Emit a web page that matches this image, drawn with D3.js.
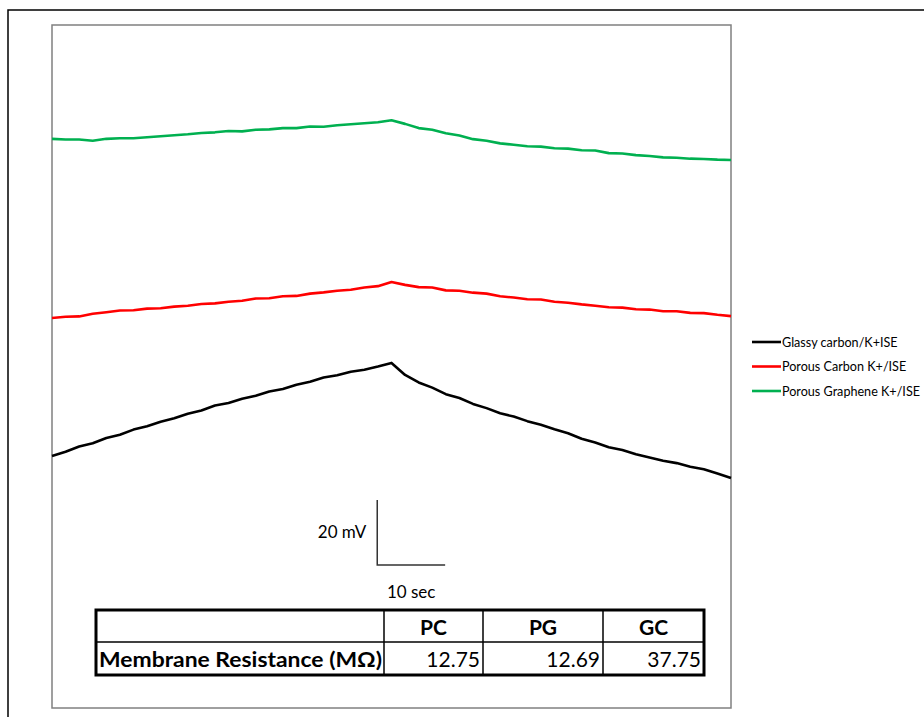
<!DOCTYPE html>
<html><head><meta charset="utf-8">
<script src="https://cdn.jsdelivr.net/npm/d3@7"></script>
<style>body{margin:0;background:#fff}svg{display:block}</style>
</head><body>
<script>
// time (s)
const time = [0,2,4,6,8,10,12,14,16,18,20,22,24,26,28,30,32,34,36,38,40,42,44,46,48,50,
  52,54,56,58,60,62,64,66,68,70,72,74,76,78,80,82,84,86,88,90,92,94,96,98,100];
// potentials (mV, arbitrary offset)
const glassyCarbon = [77.5,78.8,80.4,81.4,83.0,84.0,85.6,86.6,88.0,89.1,90.5,91.5,93.0,93.8,95.1,96.0,97.3,98.1,99.4,100.3,101.6,102.3,103.4,104.0,105.0,106.1,
  102.4,100.1,98.5,96.5,95.3,93.5,92.2,90.6,89.6,88.2,87.1,85.7,84.5,82.8,81.6,80.2,79.3,78.0,77.0,76.0,75.3,74.2,73.4,72.1,70.7];
const porousCarbon = [119.9,120.3,120.4,121.2,121.7,122.2,122.3,122.8,122.9,123.4,123.7,124.2,124.4,124.9,125.2,125.9,126.0,126.6,126.7,127.4,127.8,128.3,128.6,129.3,129.7,131.0,
  130.1,129.4,129.3,128.4,128.3,127.7,127.4,126.6,126.2,125.7,125.6,124.9,124.6,124.1,123.7,123.2,123.1,122.6,122.5,122.0,122.0,121.5,121.4,120.9,120.5];
const porousGraphene = [175.0,174.8,174.8,174.4,175.0,175.2,175.2,175.5,175.8,176.1,176.4,176.8,177.0,177.4,177.3,177.8,177.9,178.3,178.3,178.8,178.7,179.2,179.5,179.8,180.1,180.7,
  179.6,178.3,177.8,176.7,176.0,174.9,174.4,173.6,173.2,172.7,172.6,172.1,172.0,171.5,171.4,170.6,170.5,170.0,169.7,169.3,169.2,168.9,168.8,168.6,168.5];

const seriesNames = ["Glassy carbon/K+ISE","Porous Carbon K+/ISE","Porous Graphene K+/ISE"];
const seriesColors = ["#000000","#ff0000","#00b050"];
const seriesData = [glassyCarbon, porousCarbon, porousGraphene];

const tableHeaders = ["","PC","PG","GC"];
const tableRowLabel = "Membrane Resistance (MΩ)";
const tableValues = ["12.75","12.69","37.75"];

const scaleBarMV = 20, scaleBarSec = 10;

const W = 924, H = 717;
const svg = d3.select("body").append("svg").attr("width", W).attr("height", H);
const font = "Lato, 'Open Sans', sans-serif";

// outer frame
svg.append("path").attr("d", `M8,${H} L8,10 L${W},10`).attr("fill","none").attr("stroke","#000").attr("stroke-width",1.5);

// plot area
const px0 = 52, px1 = 731, py0 = 25, py1 = 708;
svg.append("rect").attr("x",px0).attr("y",py0).attr("width",px1-px0).attr("height",py1-py0)
  .attr("fill","none").attr("stroke","#808080").attr("stroke-width",1.5);

const x = d3.scaleLinear().domain([0,100]).range([px0,px1]);
const y = d3.scaleLinear().domain([0,210]).range([py1,py0]);

const line = d3.line().x((d,i)=>x(time[i])).y(d=>y(d));
seriesData.forEach((s,k)=>{
  svg.append("path").attr("d", line(s)).attr("fill","none")
    .attr("stroke", seriesColors[k]).attr("stroke-width", 2.6).attr("stroke-linejoin","round");
});

// scale bar
const sbx = x(47.9), sby = 565;
const sbTop = sby - (y(0) - y(scaleBarMV));
const sbRight = sbx + (x(scaleBarSec) - x(0));
svg.append("path").attr("d", `M${sbx},${sbTop} L${sbx},${sby} L${sbRight},${sby}`)
  .attr("fill","none").attr("stroke","#333").attr("stroke-width",1.5);
svg.append("text").attr("x", sbx-11).attr("y", (sbTop+sby)/2+6).attr("text-anchor","end")
  .attr("font-family",font).attr("font-size",17).text(scaleBarMV+" mV");
svg.append("text").attr("x", (sbx+sbRight)/2).attr("y", 598).attr("text-anchor","middle")
  .attr("font-family",font).attr("font-size",17).text(scaleBarSec+" sec");

// legend
const lg = svg.append("g");
seriesNames.forEach((n,k)=>{
  const ly = 342 + k*24.5;
  lg.append("line").attr("x1",752).attr("x2",781).attr("y1",ly).attr("y2",ly)
    .attr("stroke",seriesColors[k]).attr("stroke-width",2.6);
  lg.append("text").attr("x",782).attr("y",ly+4.5).attr("font-family",font).attr("font-size",12.6).text(n);
});

// table
const tx = [96,384,483,603,704], ty = [610,642,675];
const tg = svg.append("g");
for (let i=1;i<tx.length-1;i++) tg.append("line").attr("x1",tx[i]).attr("x2",tx[i]).attr("y1",ty[0]).attr("y2",ty[2]).attr("stroke","#000").attr("stroke-width",1.5);
tg.append("line").attr("x1",tx[0]).attr("x2",tx[4]).attr("y1",ty[1]).attr("y2",ty[1]).attr("stroke","#000").attr("stroke-width",1.5);
tg.append("rect").attr("x",tx[0]).attr("y",ty[0]).attr("width",tx[4]-tx[0]).attr("height",ty[2]-ty[0])
  .attr("fill","none").attr("stroke","#000").attr("stroke-width",3);
tableHeaders.forEach((h,i)=>{
  if(!h) return;
  tg.append("text").attr("x",(tx[i]+tx[i+1])/2).attr("y",ty[1]-7).attr("text-anchor","middle")
    .attr("font-family",font).attr("font-weight","bold").attr("font-size",21).text(h);
});
tg.append("text").attr("x",tx[0]+3).attr("y",ty[2]-8).attr("font-family",font).attr("font-weight","bold")
  .attr("font-size",21).attr("textLength",283).attr("lengthAdjust","spacingAndGlyphs").text(tableRowLabel);
tableValues.forEach((v,i)=>{
  tg.append("text").attr("x",tx[i+2]-3).attr("y",ty[2]-8).attr("text-anchor","end")
    .attr("font-family",font).attr("font-size",21).text(v);
});
</script>
</body></html>
